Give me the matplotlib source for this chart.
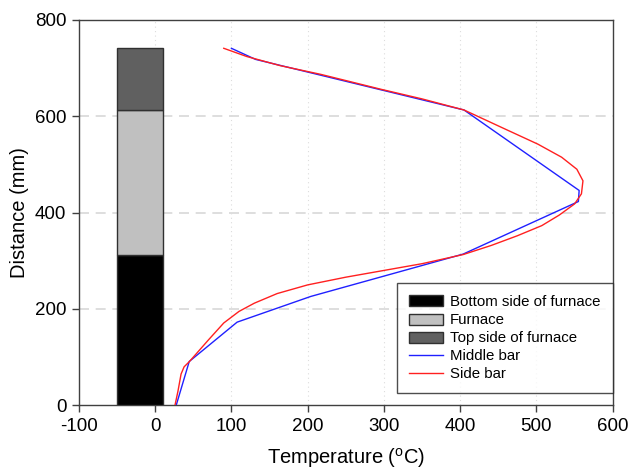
import matplotlib.pyplot as plt
from matplotlib.patches import Patch
from matplotlib.lines import Line2D

plt.rcParams['font.family'] = ['Liberation Sans', 'DejaVu Sans']
plt.rcParams['axes.unicode_minus'] = False

# furnace sections (distance ranges in mm)
section_names = ['Bottom side of furnace', 'Furnace', 'Top side of furnace']
section_bottom = [0, 313, 613]
section_height = [313, 300, 128]
section_colors = ['#000000', '#c0c0c0', '#606060']

# middle bar temperature profile
middle_temp = [27.6, 44.7, 107.5, 204, 404, 555, 556, 405, 131.6, 100]
middle_dist = [0, 91, 172.7, 226, 314, 423, 446, 613, 718, 741]

# side bar temperature profile
side_temp = [26, 30, 34, 38, 45, 70, 90, 110, 130, 160, 200, 250, 300, 350, 404,
             441, 475, 507, 530, 550, 559, 561, 553, 533, 502, 454, 405, 350, 296,
             217, 164, 120, 90]
side_dist = [0, 30, 65, 80, 91, 136, 171, 195, 212, 232, 250, 266, 280, 294, 313,
             332, 352, 373, 395, 418, 439, 466, 490, 515, 542, 577, 613, 636, 656,
             687, 705, 724, 741]

fig = plt.figure(figsize=(6.31, 4.73), dpi=100)
ax = fig.add_axes([0.125, 0.143, 0.846, 0.815])

# stacked furnace column
for b, h, c in zip(section_bottom, section_height, section_colors):
    ax.bar(-50, h, bottom=b, width=60, align='edge', color=c,
           edgecolor='#303030', linewidth=1, zorder=3)

ax.plot(middle_temp, middle_dist, color='#2020ff', lw=1, zorder=4)
ax.plot(side_temp, side_dist, color='#ff2020', lw=1, zorder=4)

ax.set_xlim(-100, 600)
ax.set_ylim(0, 800)
ax.set_xticks(range(-100, 601, 100))
ax.set_yticks(range(0, 801, 200))

# grid: dashed horizontal, faint dotted vertical
for y in [200, 400, 600]:
    ax.axhline(y, color='#d8d8d8', lw=1.2, ls=(0, (6, 4)), zorder=1)
for x in range(0, 600, 100):
    ax.axvline(x, color='#dcdcdc', lw=0.8, ls=(0, (1, 3)), zorder=1)

for s in ax.spines.values():
    s.set_color('#404040')
    s.set_linewidth(1)
ax.tick_params(direction='out', length=5, width=1, color='#404040',
               labelsize=13.5, pad=4)

ax.set_xlabel('Temperature ($\\mathregular{^{o}}$C)', fontsize=14.5, labelpad=8)
ax.set_ylabel('Distance (mm)', fontsize=14.5, labelpad=4)

handles = [Patch(facecolor=c, edgecolor='#303030', label=n)
           for n, c in zip(section_names, section_colors)]
handles += [Line2D([], [], color='#2020ff', lw=1, label='Middle bar'),
            Line2D([], [], color='#ff2020', lw=1, label='Side bar')]
leg = ax.legend(handles=handles, loc='lower right', bbox_to_anchor=(1.0, 0.031),
                borderaxespad=0, fontsize=10.8, frameon=True, fancybox=False,
                edgecolor='#202020', handlelength=2.3, handleheight=0.75,
                labelspacing=0.27, borderpad=0.8, handletextpad=0.47)
leg.get_frame().set_linewidth(1)

plt.savefig('out.png', dpi=100)
